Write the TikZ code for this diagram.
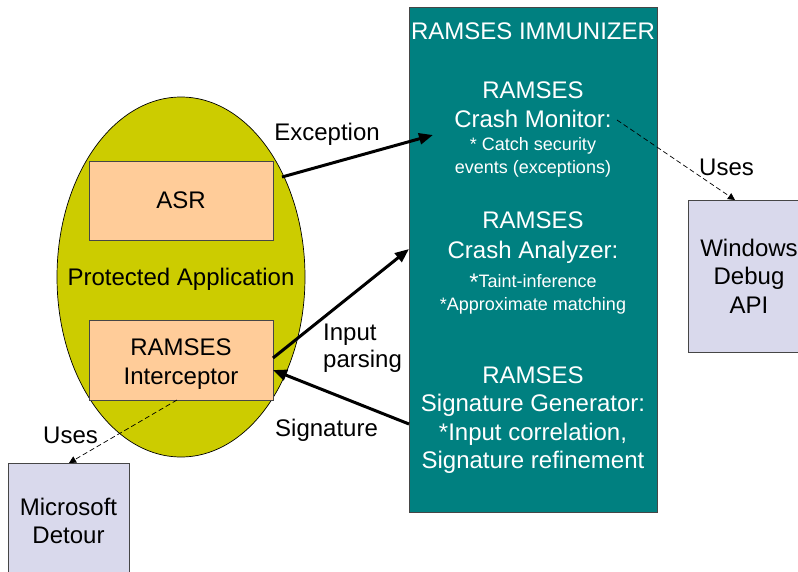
\documentclass[tikz,border=0pt]{standalone}
\usepackage{fontspec}
\setmainfont{Liberation Sans}
\usetikzlibrary{shapes.geometric,arrows.meta}
\definecolor{immteal}{RGB}{0,128,128}
\definecolor{appolive}{RGB}{204,204,0}
\definecolor{peach}{RGB}{255,204,153}
\definecolor{lavender}{RGB}{217,217,236}
\definecolor{edgegray}{RGB}{70,70,70}

\begin{document}
\begin{tikzpicture}[x=1pt,y=-1pt,
  big/.style={font=\fontsize{24}{28.5}\selectfont},
  small/.style={font=\fontsize{18}{23}\selectfont},
  wtext/.style={text=white, inner sep=0pt, anchor=base},
  btext/.style={text=black, inner sep=0pt, anchor=base},
  compbox/.style={draw=edgegray, line width=0.8pt, fill=peach, minimum width=184pt, minimum height=79pt, align=center, big, inner sep=0pt},
  extbox/.style={draw=edgegray, line width=0.8pt, fill=lavender, align=center, big, inner sep=0pt},
  flow/.style={line width=3pt, -{Triangle[length=14pt,width=11pt]}},
  uses/.style={line width=0.7pt, dash pattern=on 5pt off 3pt, -{Triangle[length=7pt,width=7pt]}}
]
\useasboundingbox (0,0) rectangle (798,571);
\clip (0,0) rectangle (798,571);

% protected application
\node[ellipse, draw=black, line width=0.7pt, fill=appolive, minimum width=248pt, minimum height=360pt, inner sep=0pt] (app) at (181,277) {};
\node[compbox] (asr) at (181,200.5) {ASR};
\node[compbox, minimum height=80pt] (inter) at (181,360) {};
\node[btext, big] (inter1) at (181,355) {RAMSES};
\node[btext, big] (inter2) at (181,384) {Interceptor};
\node[btext, big] (applbl) at (181,285) {Protected Application};

% immunizer
\node[draw=edgegray, line width=0.8pt, fill=immteal, minimum width=248pt, minimum height=505pt, inner sep=0pt] (imm) at (533,259.5) {};
\node[wtext, big] (immt) at (533,39) {RAMSES IMMUNIZER};
\node[wtext, big] (cm1) at (533,98) {RAMSES};
\node[wtext, big] (cm2) at (533,127) {Crash Monitor:};
\node[wtext, small] (cm3) at (533,150) {* Catch security};
\node[wtext, small] (cm4) at (533,173) {events (exceptions)};
\node[wtext, big] (ca1) at (533,228) {RAMSES};
\node[wtext, big] (ca2) at (533,258) {Crash Analyzer:};
\node[wtext, small] (ca3) at (533,287) {{\fontsize{24}{24}\selectfont\raisebox{-3pt}{*}}Taint-inference};
\node[wtext, small] (ca4) at (533,310) {*Approximate matching};
\node[wtext, big] (sg1) at (533,383) {RAMSES};
\node[wtext, big] (sg2) at (533,411) {Signature Generator:};
\node[wtext, big] (sg3) at (533,440) {*Input correlation,};
\node[wtext, big] (sg4) at (533,468) {Signature refinement};

% external APIs
\node[extbox, minimum width=122pt, minimum height=152pt] (win) at (749,276) {Windows\\[0pt]Debug\\[0pt]API};
\node[extbox, minimum width=121pt, minimum height=116pt] (det) at (68.5,521) {Microsoft\\[0pt]Detour};

% connector end points
\coordinate (excfrom) at (282,177);
\coordinate (excto) at (433,135);
\coordinate (inpfrom) at (273,358);
\coordinate (inpto) at (409,249);
\coordinate (sigfrom) at (409,424);
\coordinate (sigto) at (273,370);
\coordinate (monfrom) at (617,120);
\coordinate (winto) at (735,200);
\coordinate (intfrom) at (177,400);
\coordinate (detto) at (69,463);

\draw[flow] (excfrom) -- (excto);
\draw[flow] (inpfrom) -- (inpto);
\draw[flow] (sigfrom) -- (sigto);
\draw[uses] (monfrom) -- (winto);
\draw[uses] (intfrom) -- (detto);

% connector labels
\node[btext, big] (lexc) at (327,140) {Exception};
\node[btext, big, anchor=base west] (linp1) at (323,340) {Input};
\node[btext, big, anchor=base west] (linp2) at (323,367) {parsing};
\node[btext, big, anchor=base west] (lsig) at (275,436) {Signature};
\node[btext, big, anchor=base west] (luse1) at (699,175) {Uses};
\node[btext, big, anchor=base west] (luse2) at (43,443) {Uses};
\end{tikzpicture}
\end{document}
